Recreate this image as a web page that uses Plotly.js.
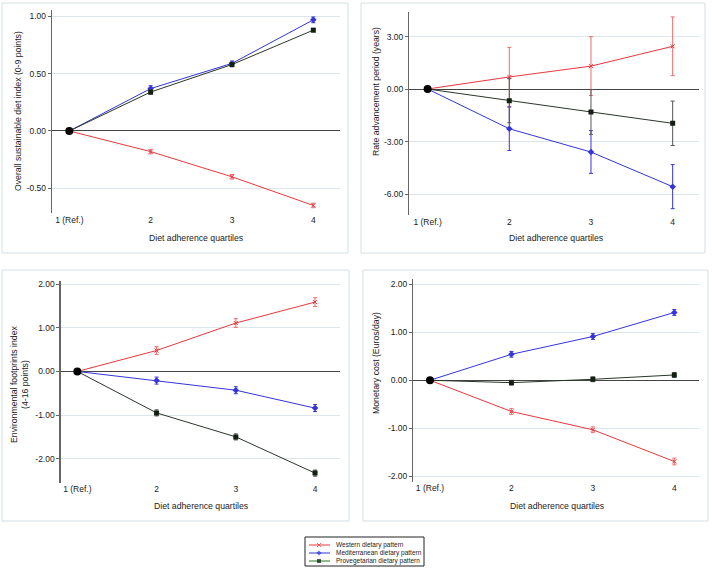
<!DOCTYPE html>
<html>
<head>
<meta charset="utf-8">
<script src="https://cdn.plot.ly/plotly-3.0.1.min.js"></script>
<style>
  html, body { margin: 0; padding: 0; background: #fff; }
  #chart { width: 712px; height: 569px; }
</style>
</head>
<body>
<div id="chart"></div>
<script>
// x categories
const quartiles = ["1 (Ref.)", "2", "3", "4"];
const seriesNames = ["Western dietary pattern", "Mediterranean dietary pattern", "Provegetarian dietary pattern"];

// panel A - overall sustainable diet index
const sdiWestern = [0, -0.18, -0.40, -0.65];
const sdiWesternErr = [0, 0.02, 0.02, 0.02];
const sdiMed = [0, 0.37, 0.59, 0.97];
const sdiMedErr = [0, 0.025, 0.02, 0.025];
const sdiProveg = [0, 0.34, 0.58, 0.88];
const sdiProvegErr = [0, 0.02, 0.02, 0.015];

// panel B - rate advancement period
const rapWestern = [0, 0.69, 1.31, 2.44];
const rapWesternErr = [0, 1.69, 1.68, 1.68];
const rapMed = [0, -2.27, -3.60, -5.58];
const rapMedErr = [0, 1.24, 1.22, 1.26];
const rapProveg = [0, -0.67, -1.31, -1.96];
const rapProvegErr = [0, 1.26, 1.28, 1.27];

// panel C - environmental footprints index
const efWestern = [0, 0.48, 1.11, 1.59];
const efWesternErr = [0, 0.09, 0.10, 0.10];
const efMed = [0, -0.21, -0.43, -0.84];
const efMedErr = [0, 0.08, 0.08, 0.08];
const efProveg = [0, -0.95, -1.50, -2.33];
const efProvegErr = [0, 0.07, 0.07, 0.07];

// panel D - monetary cost
const mcWestern = [0, -0.65, -1.03, -1.69];
const mcWesternErr = [0, 0.06, 0.06, 0.07];
const mcMed = [0, 0.54, 0.91, 1.41];
const mcMedErr = [0, 0.06, 0.06, 0.06];
const mcProveg = [0, -0.05, 0.02, 0.11];
const mcProvegErr = [0, 0.05, 0.05, 0.05];

const W = 712, H = 569;
const fx = px => px / W;
const fy = py => 1 - py / H;
const FONT = 'Arial, "Liberation Sans", sans-serif';

const RED = "#e8383d", BLUE = "#3434d8", DARK = "#2b362b", GREEN = "#237a23";

const panels = [
	{ax: "", w: sdiWestern, we: sdiWesternErr, m: sdiMed, me: sdiMedErr, p: sdiProveg, pe: sdiProvegErr,
	 dom: [52, 340, 10, 213], xr: [-0.213, 3.328], yr: [-0.716, 1.056], ticks: [-0.5, 0, 0.5, 1],
	 ytitle: "Overall sustainable diet index (0-9 points)", ytx: 18, yty: 111, xtx: 196, xty: 238},
	{ax: "2", w: rapWestern, we: rapWesternErr, m: rapMed, me: rapMedErr, p: rapProveg, pe: rapProvegErr,
	 dom: [409.3, 699.3, 11.7, 215], xr: [-0.224, 3.326], yr: [-7.2, 4.42], ticks: [-6, -3, 0, 3],
	 ytitle: "Rate advancement period (years)", ytx: 376, yty: 91, xtx: 556, xty: 238},
	{ax: "3", w: efWestern, we: efWesternErr, m: efMed, me: efMedErr, p: efProveg, pe: efProvegErr,
	 dom: [60.7, 340, 280.7, 482.7], xr: [-0.21, 3.315], yr: [-2.55, 2.08], ticks: [-2, -1, 0, 1, 2],
	 ytitle: "Environmental footprints index<br>(4-16 points)", ytx: 19, yty: 384, xtx: 201, xty: 506},
	{ax: "4", w: mcWestern, we: mcWesternErr, m: mcMed, me: mcMedErr, p: mcProveg, pe: mcProvegErr,
	 dom: [413.3, 699.3, 279.3, 481.7], xr: [-0.205, 3.307], yr: [-2.11, 2.10], ticks: [-2, -1, 0, 1, 2],
	 ytitle: "Monetary cost (Euros/day)", ytx: 376, yty: 363, xtx: 557, xty: 506}
];

const traces = [];
const layout = {
	width: W, height: H,
	margin: {l: 0, r: 0, t: 0, b: 0},
	paper_bgcolor: "white", plot_bgcolor: "white",
	showlegend: false,
	font: {family: FONT, size: 8.5, color: "#222"},
	shapes: [], annotations: []
};

function errBar(arr, color) {
	return {type: "data", array: arr, visible: true, color: color, thickness: 1, width: 2};
}

panels.forEach(pn => {
	const xa = "x" + pn.ax, ya = "y" + pn.ax;
	traces.push({x: quartiles, y: pn.w, xaxis: xa, yaxis: ya, type: "scatter", mode: "lines+markers",
		line: {color: RED, width: 1}, error_y: errBar(pn.we, "#f06a6a"),
		marker: {symbol: "x-thin", size: 4, line: {color: RED, width: 1}}});
	traces.push({x: quartiles, y: pn.m, xaxis: xa, yaxis: ya, type: "scatter", mode: "lines+markers",
		line: {color: BLUE, width: 1}, error_y: errBar(pn.me, BLUE),
		marker: {symbol: "diamond", size: 5, color: BLUE}});
	traces.push({x: quartiles, y: pn.p, xaxis: xa, yaxis: ya, type: "scatter", mode: "lines+markers",
		line: {color: DARK, width: 1}, error_y: errBar(pn.pe, "#555"),
		marker: {symbol: "square", size: 5, color: "#122012"}});
	// reference category point
	traces.push({x: [quartiles[0]], y: [pn.p[0]], xaxis: xa, yaxis: ya, type: "scatter", mode: "markers",
		marker: {symbol: "circle", size: 8, color: "#000"}});

	const d = pn.dom;
	layout["xaxis" + pn.ax] = {
		domain: [fx(d[0]), fx(d[1])], anchor: ya, type: "category", range: pn.xr,
		showline: false, showgrid: false, zeroline: false, ticks: "",
		tickfont: {family: FONT, size: 8.5, color: "#222"}, fixedrange: true
	};
	layout["yaxis" + pn.ax] = {
		domain: [fy(d[3]), fy(d[2])], anchor: xa, range: pn.yr,
		tickvals: pn.ticks, ticktext: pn.ticks.map(v => v.toFixed(2)),
		showline: true, linecolor: "#666", linewidth: 1.3,
		ticks: "outside", ticklen: 3, tickcolor: "#666",
		showgrid: true, gridcolor: "#dce7eb", gridwidth: 1,
		zeroline: true, zerolinecolor: "#444", zerolinewidth: 1,
		tickfont: {family: FONT, size: 8.5, color: "#222"}, fixedrange: true
	};
	layout.annotations.push({xref: "paper", yref: "paper", x: fx(pn.ytx), y: fy(pn.yty), text: pn.ytitle,
		textangle: -90, showarrow: false, font: {size: 8.7, color: "#222"}, xanchor: "center", yanchor: "middle"});
	layout.annotations.push({xref: "paper", yref: "paper", x: fx(pn.xtx), y: fy(pn.xty), text: "Diet adherence quartiles",
		showarrow: false, font: {size: 8.7, color: "#222"}, xanchor: "center", yanchor: "middle"});
});

// panel frames
[[2, 348, 3, 253], [361, 705, 3, 253], [2, 349, 270, 521], [363, 708, 270, 521]].forEach(b => {
	layout.shapes.push({type: "rect", xref: "paper", yref: "paper",
		x0: fx(b[0]), x1: fx(b[1]), y0: fy(b[3]), y1: fy(b[2]),
		line: {color: "#d3dfe4", width: 1}});
});

// legend, drawn by hand so rows sit close together
layout.xaxis5 = {domain: [fx(305), fx(424)], range: [0, 119], visible: false, anchor: "y5", fixedrange: true};
layout.yaxis5 = {domain: [fy(566), fy(537)], range: [0, 29], visible: false, anchor: "x5", fixedrange: true};
layout.shapes.push({type: "rect", xref: "paper", yref: "paper",
	x0: fx(305), x1: fx(424), y0: fy(566), y1: fy(537), line: {color: "#222", width: 1}});
const legendStyle = [
	{color: RED, symbol: "x-thin", size: 4},
	{color: BLUE, symbol: "diamond", size: 4},
	{color: GREEN, symbol: "square", size: 4}
];
seriesNames.forEach((name, i) => {
	const yy = 21 - i * 8;
	const st = legendStyle[i];
	traces.push({x: [4, 14, 25], y: [yy, yy, yy], xaxis: "x5", yaxis: "y5", type: "scatter", mode: "lines+markers",
		line: {color: st.color, width: 1},
		marker: {symbol: st.symbol, size: [0, st.size, 0], color: i === 2 ? "#111" : st.color,
			line: {color: st.color, width: i === 0 ? 1 : 0}}});
	layout.annotations.push({xref: "x5", yref: "y5", x: 29, y: yy, text: name, showarrow: false,
		xanchor: "left", yanchor: "middle", font: {size: 6.5, color: "#222"}});
});

Plotly.newPlot("chart", traces, layout, {displayModeBar: false, staticPlot: true});
</script>
</body>
</html>
